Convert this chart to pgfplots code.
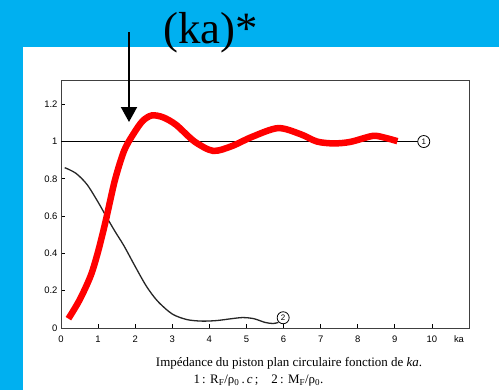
\documentclass[border=0pt]{standalone}
\usepackage{pgfplots}
\pgfplotsset{compat=1.18}
\usepackage{fontspec}
\setmainfont{Liberation Serif}
\setsansfont{Liberation Sans}
\usetikzlibrary{arrows.meta}
\definecolor{bgblue}{RGB}{0,176,240}

\begin{document}
\begin{tikzpicture}
\begin{scope}[x=1bp,y=1bp]
\path[use as bounding box] (0,0) rectangle (499,390);
\fill[bgblue] (0,0) rectangle (499,390);
\fill[white] (23,0) rectangle (499,343);
\end{scope}
\begin{axis}[
  at={(61bp,62bp)}, anchor=south west,
  scale only axis, width=408bp, height=248bp,
  xmin=0, xmax=11, ymin=0, ymax=1.33,
  xtick={0,1,2,3,4,5,6,7,8,9,10},
  xticklabels={0,1,2,3,4,5,6,7,8,9,10},
  ytick={0,0.2,0.4,0.6,0.8,1,1.2},
  yticklabels={0,0.2,0.4,0.6,0.8,1,1.2},
  xtick pos=bottom, ytick pos=left,
  tick align=inside, major tick length=4bp,
  axis line style={line width=0.8bp, black!75},
  tick style={black, line width=0.7bp},
  ticklabel style={font=\sffamily\fontsize{9.5}{9.5}\selectfont},
  xticklabel style={yshift=-4bp},
  clip=false,
]
\addplot[black, line width=1.1bp] coordinates {(0,1) (9.62,1)};
\addplot[black!85, line width=1.3bp, smooth] coordinates {
(0.1,0.86) (0.4,0.83) (0.7,0.77) (1.0,0.675) (1.2,0.605) (1.45,0.52) (1.7,0.44)
(2.0,0.33) (2.3,0.225) (2.6,0.145) (3.0,0.075) (3.4,0.045) (3.8,0.037) (4.2,0.04)
(4.6,0.05) (4.9,0.056) (5.2,0.05) (5.5,0.03) (5.72,0.024) (5.86,0.03)};
\addplot[red, line width=6.5bp, smooth] coordinates {
(0.2,0.05) (0.5,0.15) (0.8,0.28) (1.0,0.41) (1.2,0.57) (1.45,0.79) (1.7,0.95)
(1.95,1.04) (2.2,1.11) (2.45,1.14) (2.75,1.13) (3.1,1.09) (3.6,1.0) (4.1,0.95)
(4.6,0.975) (5.15,1.025) (5.85,1.072) (6.45,1.04) (6.9,1.0) (7.35,0.99)
(7.8,0.998) (8.4,1.03) (8.7,1.022) (9.07,1.002)};
\node[draw, circle, fill=white, inner sep=0pt, minimum size=12bp, line width=0.8bp,
  font=\sffamily\fontsize{8}{8}\selectfont] at (axis cs:9.78,1) {1};
\node[draw, circle, fill=white, inner sep=0pt, minimum size=12bp, line width=0.8bp,
  font=\sffamily\fontsize{8}{8}\selectfont] at (axis cs:5.99,0.055) {2};
\node[anchor=north, yshift=-4bp, font=\sffamily\fontsize{9.5}{9.5}\selectfont] at (axis cs:10.73,0) {ka};
\end{axis}
\begin{scope}[x=1bp,y=1bp]
\node[anchor=base west, inner sep=0pt, font=\fontsize{45}{45}\selectfont] at (163,347) {(ka)*};
\draw[line width=2bp, -{Triangle[length=15bp,width=16bp]}] (129,358) -- (129,268);
\node[font=\fontsize{13}{13}\selectfont] at (289,27) {Impédance du piston plan circulaire fonction de \textit{ka}.};
\node[font=\fontsize{13}{13}\selectfont] at (258.5,9) {1\,: R\textsubscript{F}/ρ\textsubscript{0}\,.\,\textit{c}\,;\quad 2\,: M\textsubscript{F}/ρ\textsubscript{0}.};
\end{scope}
\end{tikzpicture}
\end{document}
